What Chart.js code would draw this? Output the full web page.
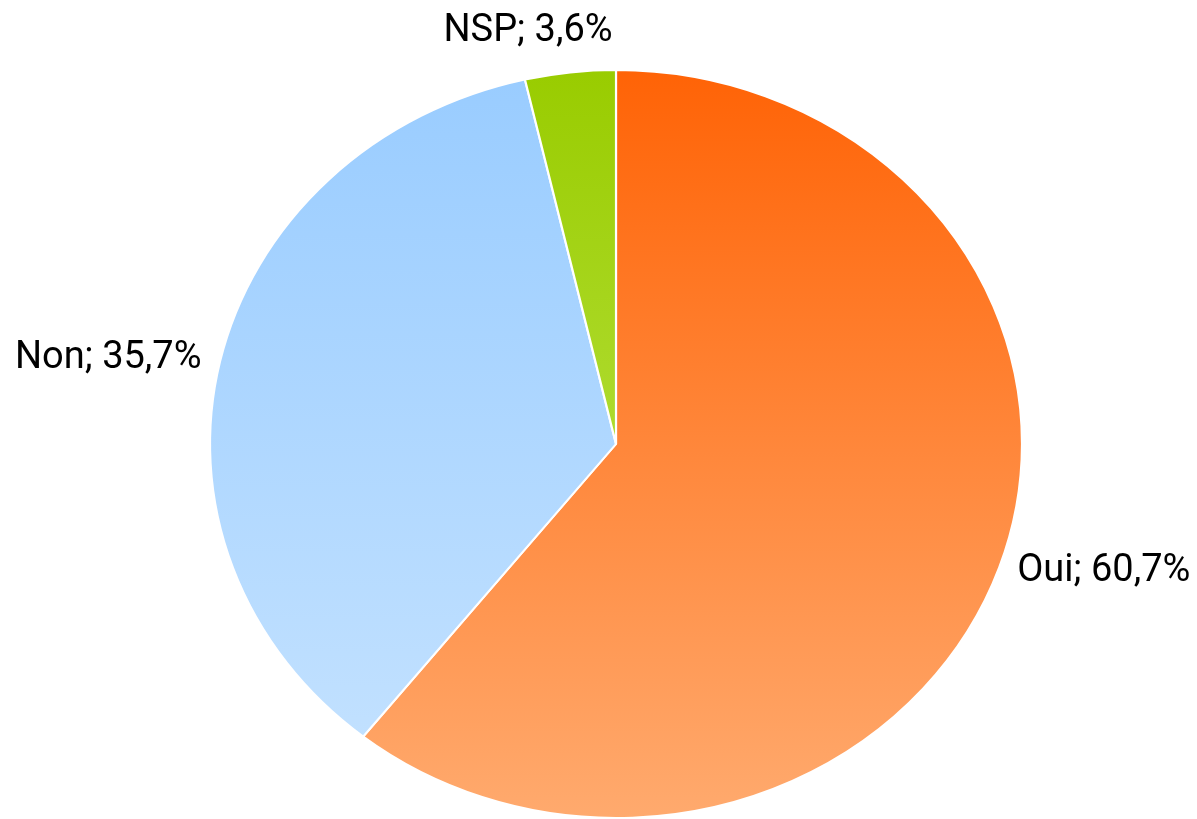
<!DOCTYPE html>
<html>
<head>
<meta charset="utf-8">
<script src="https://cdn.jsdelivr.net/npm/chart.js@4/dist/chart.umd.min.js"></script>
<style>
  html, body { margin: 0; padding: 0; background: #fff; }
  #wrap { width: 1197px; height: 819px; }
</style>
</head>
<body>
<div id="wrap"><canvas id="pie"></canvas></div>
<script>
const labels = ['Oui', 'Non', 'NSP'];
const values = [60.7, 35.7, 3.6];
// top / bottom colour of each slice's vertical gradient
const topColors = ['#ff6306', '#99ccff', '#99cc00'];
const bottomColors = ['#ffaa6e', '#c6e3ff', '#c4ea5c'];

const xStretch = 406 / 374; // the pie is a bit wider than tall

const stretchPie = {
  id: 'stretchPie',
  beforeDatasetsDraw(chart) {
    const arc = chart.getDatasetMeta(0).data[0];
    const {ctx} = chart;
    ctx.save();
    ctx.translate(arc.x, arc.y);
    ctx.scale(xStretch, 1);
    ctx.translate(-arc.x, -arc.y);
  },
  afterDatasetsDraw(chart) {
    chart.ctx.restore();
  }
};

const pieLabels = {
  id: 'pieLabels',
  afterDatasetsDraw(chart) {
    const {ctx} = chart;
    const meta = chart.getDatasetMeta(0);
    ctx.save();
    ctx.font = '38px "Liberation Sans Narrow", "Arial Narrow", Roboto, sans-serif';
    ctx.fillStyle = '#000';
    meta.data.forEach((arc, i) => {
      const mid = (arc.startAngle + arc.endAngle) / 2;
      const rx = arc.outerRadius * xStretch;
      const ry = arc.outerRadius;
      const c = Math.cos(mid), s = Math.sin(mid);
      let x = arc.x + (rx + 19) * c;
      let y = arc.y + (ry + 13) * s;
      if (c > 0.3) ctx.textAlign = 'left';
      else if (c < -0.3) ctx.textAlign = 'right';
      else ctx.textAlign = 'center';
      ctx.textBaseline = 'middle';
      if (s < -0.9) { y -= 28; x -= 40; }
      const txt = labels[i] + '; ' + values[i].toFixed(1).replace('.', ',') + '%';
      ctx.fillText(txt, x, y);
    });
    ctx.restore();
  }
};

function sliceGradient(context) {
  const chart = context.chart;
  const area = chart.chartArea;
  if (!area) return topColors[context.dataIndex];
  const g = chart.ctx.createLinearGradient(0, area.top, 0, area.bottom);
  g.addColorStop(0, topColors[context.dataIndex]);
  g.addColorStop(1, bottomColors[context.dataIndex]);
  return g;
}

new Chart(document.getElementById('pie'), {
  type: 'pie',
  data: {
    labels: labels,
    datasets: [{
      data: values,
      backgroundColor: sliceGradient,
      borderColor: '#ffffff',
      borderWidth: 2,
      hoverOffset: 0
    }]
  },
  options: {
    responsive: true,
    maintainAspectRatio: false,
    animation: false,
    layout: { padding: { left: 35, right: 0, top: 69, bottom: 0 } },
    plugins: {
      legend: { display: false },
      tooltip: { enabled: false }
    }
  },
  plugins: [stretchPie, pieLabels]
});
</script>
</body>
</html>
